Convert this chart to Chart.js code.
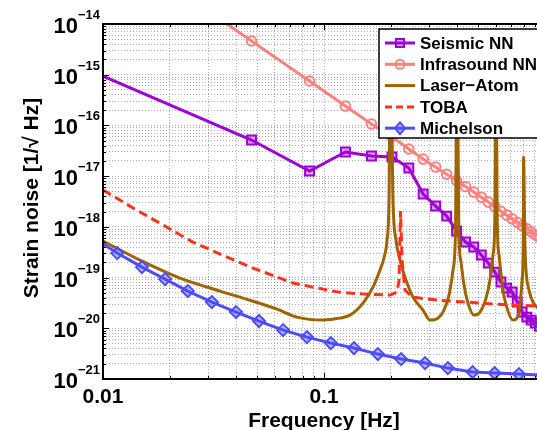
<!DOCTYPE html>
<html>
<head>
<meta charset="utf-8">
<script src="https://cdn.jsdelivr.net/npm/chart.js@4.4.1/dist/chart.umd.min.js"></script>
<style>
  html, body { margin: 0; padding: 0; background: #fff; overflow: hidden; }
  #wrap { position: relative; width: 560px; height: 430px; }
</style>
</head>
<body>
<div id="wrap"><canvas id="noiseChart"></canvas></div>
<script>
// frequency [Hz] / strain noise [1/sqrt(Hz)]
const seismicFreq = [0.01, 0.047, 0.086, 0.125, 0.164, 0.203, 0.242, 0.281, 0.320, 0.359, 0.398, 0.437, 0.476,
  0.515, 0.554, 0.593, 0.632, 0.671, 0.710, 0.749, 0.788, 0.827, 0.866, 0.905, 0.944];
const seismicNoise = [9.4e-16, 5.15e-17, 1.26e-17, 2.99e-17, 2.49e-17, 2.38e-17, 1.45e-17, 4.44e-18, 2.57e-18,
  1.63e-18, 8.26e-19, 5.01e-19, 4.0e-19, 2.78e-19, 1.93e-19, 1.28e-19, 8.15e-20, 6.2e-20, 5.18e-20, 3.29e-20,
  2.09e-20, 1.66e-20, 1.45e-20, 1.27e-20, 1.1e-20];

const infraFreq = [0.03, 0.047, 0.086, 0.125, 0.164, 0.203, 0.242, 0.281, 0.320, 0.359, 0.398, 0.437, 0.476,
  0.515, 0.554, 0.593, 0.632, 0.671, 0.710, 0.749, 0.788, 0.827, 0.866, 0.905, 0.944];
const infraNoise = [1.8e-14, 4.62e-15, 7.52e-16, 2.41e-16, 1.07e-16, 5.98e-17, 3.43e-17, 2.17e-17, 1.51e-17,
  1.09e-17, 8.18e-18, 6.24e-18, 4.85e-18, 3.84e-18, 3.08e-18, 2.49e-18, 2.03e-18, 1.70e-18, 1.44e-18, 1.23e-18,
  1.05e-18, 9.14e-19, 7.96e-19, 6.98e-19, 6.15e-19];

const laserFreq = [0.01, 0.0147, 0.02231, 0.03383, 0.04301, 0.06128, 0.07546, 0.0990, 0.1182, 0.1311, 0.1502,
  0.1666, 0.1792, 0.1868, 0.1928, 0.1968, 0.2, 0.2052, 0.2118, 0.2208, 0.2325, 0.2527, 0.2805, 0.3018, 0.3280,
  0.3491, 0.3679, 0.3835, 0.3936, 0.4, 0.4074, 0.4168, 0.4300, 0.4483, 0.4773, 0.5081, 0.5408, 0.5638, 0.5817,
  0.5928, 0.6, 0.6077, 0.6193, 0.6457, 0.6731, 0.7165, 0.7470, 0.7706, 0.7868, 0.7976, 0.8, 0.8102, 0.8204,
  0.8465, 0.8824, 0.949];
const laserNoise = [5.25e-19, 2.21e-19, 9.77e-20, 5.42e-20, 3.94e-20, 2.39e-20, 1.66e-20, 1.45e-20, 1.59e-20,
  1.82e-20, 3.14e-20, 6.5e-20, 1.41e-19, 2.43e-19, 5.5e-19, 3.38e-18, 5e-15, 3.38e-18, 5.5e-19, 2.21e-19,
  1.02e-19, 4.12e-20, 2.29e-20, 1.45e-20, 1.59e-20, 2.29e-20, 4.52e-20, 1.41e-19, 8.65e-19, 5e-15, 8.65e-19,
  2.02e-19, 7.11e-20, 3.14e-20, 1.82e-20, 2.09e-20, 3.94e-20, 8.93e-20, 2.78e-19, 1.36e-18, 5e-15, 1.36e-18,
  2.78e-19, 5.66e-20, 2.5e-20, 1.45e-20, 1.59e-20, 2.87e-20, 8.15e-20, 5.5e-19, 2.38e-17, 5.5e-19, 1.41e-19,
  5.66e-20, 3.29e-20, 2.29e-20];

const tobaFreq = [0.01, 0.01396, 0.01774, 0.0255, 0.0331, 0.0477, 0.0724, 0.1157, 0.150, 0.199, 0.214, 0.2185,
  0.222, 0.2255, 0.2325, 0.250, 0.324, 0.508, 0.695, 0.949];
const tobaNoise = [5.32e-18, 2.24e-18, 1.24e-18, 5.01e-19, 3.04e-19, 1.54e-19, 7.8e-20, 5.18e-20, 4.73e-20,
  4.52e-20, 5.2e-20, 8.9e-20, 2.05e-18, 2.2e-19, 5.66e-20, 4.12e-20, 3.6e-20, 3.14e-20, 2.87e-20, 2.74e-20];

const michFreq = [0.01, 0.0116, 0.0150, 0.0191, 0.0242, 0.0311, 0.0400, 0.0508, 0.0653, 0.0837, 0.1074, 0.1367,
  0.1753, 0.2233, 0.2865, 0.3633, 0.4703, 0.5915, 0.7620, 0.97];
const michNoise = [4.58e-19, 3.04e-19, 1.61e-19, 9.33e-20, 5.42e-20, 3.29e-20, 2.09e-20, 1.39e-20, 9.2e-21,
  6.7e-21, 5.1e-21, 4.07e-21, 3.1e-21, 2.47e-21, 2.06e-21, 1.64e-21, 1.37e-21, 1.31e-21, 1.25e-21, 1.19e-21];

// axis ticks
const xTickLabels = ['0.01', '0.1', '1'];
const yTickExponents = [-21, -20, -19, -18, -17, -16, -15, -14];

const FONT = '"Liberation Sans", Arial, Helvetica, sans-serif';
const C_SEIS = 'rgb(158,0,214)';
const C_INFRA = 'rgb(255,128,128)';
const C_LASER = 'rgb(158,100,0)';
const C_TOBA = 'rgb(255,50,30)';
const C_MICH = 'rgb(77,77,255)';

const pts = (xs, ys) => xs.map((x, i) => ({ x: x, y: ys[i] }));
// no marker on the first point (it is just where the curve enters the axes)
const noFirst = r => ctx => ctx.dataIndex === 0 ? 0 : r;

function logTicks(minExp, maxExp) {
  const ticks = [];
  for (let e = minExp; e < maxExp; e++) {
    for (let m = 1; m <= 9; m++) ticks.push({ value: Number(m + 'e' + e), major: m === 1 });
  }
  ticks.push({ value: Number('1e' + maxExp), major: true });
  return ticks;
}

const legendItems = [
  { label: 'Seismic NN', color: C_SEIS, marker: 'square' },
  { label: 'Infrasound NN', color: C_INFRA, marker: 'circle' },
  { label: 'Laser\u2212Atom', color: C_LASER },
  { label: 'TOBA', color: C_TOBA, dash: [7, 4] },
  { label: 'Michelson', color: C_MICH, marker: 'diamond' }
];

function drawMarker(ctx, kind, x, y, color) {
  ctx.save();
  ctx.strokeStyle = color;
  ctx.lineWidth = 2;
  ctx.setLineDash([]);
  ctx.beginPath();
  if (kind === 'square') {
    ctx.fillStyle = 'rgba(158,0,214,0.35)';
    ctx.rect(x - 4, y - 4, 8, 8);
  } else if (kind === 'circle') {
    ctx.fillStyle = 'rgba(255,255,255,0)';
    ctx.arc(x, y, 4.5, 0, Math.PI * 2);
  } else if (kind === 'diamond') {
    ctx.fillStyle = 'rgba(77,77,255,0.4)';
    ctx.moveTo(x - 5, y); ctx.lineTo(x, y - 6); ctx.lineTo(x + 5, y); ctx.lineTo(x, y + 6); ctx.closePath();
  }
  ctx.fill();
  ctx.stroke();
  ctx.restore();
}

// axes box, inward ticks, tick labels, titles and the legend
const frame = {
  id: 'frame',
  afterDraw(chart) {
    const { ctx, chartArea: a } = chart;
    const xs = chart.scales.x, ys = chart.scales.y;
    ctx.save();

    ctx.strokeStyle = '#000';
    ctx.lineWidth = 1;
    ctx.beginPath();
    xs.ticks.forEach(t => {
      const px = Math.round(xs.getPixelForValue(t.value)) + 0.5;
      const len = t.major ? 6 : 3;
      ctx.moveTo(px, a.bottom); ctx.lineTo(px, a.bottom - len);
      ctx.moveTo(px, a.top); ctx.lineTo(px, a.top + len);
    });
    ys.ticks.forEach(t => {
      const py = Math.round(ys.getPixelForValue(t.value)) + 0.5;
      const len = t.major ? 6 : 3;
      ctx.moveTo(a.left, py); ctx.lineTo(a.left + len, py);
      ctx.moveTo(a.right, py); ctx.lineTo(a.right - len, py);
    });
    ctx.stroke();

    ctx.lineWidth = 2;
    ctx.strokeRect(a.left, a.top, a.right - a.left, a.bottom - a.top);

    // x tick labels
    ctx.fillStyle = '#000';
    ctx.font = 'bold 21px ' + FONT;
    ctx.textAlign = 'center';
    ctx.textBaseline = 'alphabetic';
    xTickLabels.forEach(s => {
      ctx.fillText(s, xs.getPixelForValue(parseFloat(s)), a.bottom + 24);
    });

    // y tick labels: 10 with a superscript exponent
    yTickExponents.forEach(e => {
      const py = ys.getPixelForValue(Number('1e' + e));
      const sup = '\u2212' + Math.abs(e);
      ctx.font = 'bold 13px ' + FONT;
      const wSup = ctx.measureText(sup).width;
      ctx.textAlign = 'right';
      ctx.fillText(sup, a.left - 3, py - 5);
      ctx.font = 'bold 22px ' + FONT;
      ctx.fillText('10', a.left - 3 - wSup, py + 9);
    });

    // axis titles
    ctx.font = 'bold 21px ' + FONT;
    ctx.textAlign = 'center';
    ctx.fillText('Frequency [Hz]', (a.left + a.right) / 2, 427);
    ctx.save();
    ctx.translate(32, 198);
    ctx.rotate(-Math.PI / 2);
    ctx.textBaseline = 'middle';
    ctx.fillText('Strain noise [1/\u221A Hz]', 0, 0);
    ctx.restore();

    // legend box, top right inside the axes
    const lx = 379, ly = 29;
    ctx.fillStyle = '#fff';
    ctx.fillRect(lx, ly, 175, 109);
    ctx.lineWidth = 1.5;
    ctx.strokeStyle = '#000';
    ctx.strokeRect(lx, ly, 175, 109);
    ctx.font = 'bold 17px ' + FONT;
    ctx.textAlign = 'left';
    ctx.textBaseline = 'middle';
    legendItems.forEach((it, i) => {
      const y = ly + 14 + i * 21.3;
      ctx.save();
      ctx.strokeStyle = it.color;
      ctx.lineWidth = 3;
      ctx.setLineDash(it.dash || []);
      ctx.beginPath();
      ctx.moveTo(lx + 6, y); ctx.lineTo(lx + 36, y);
      ctx.stroke();
      ctx.restore();
      if (it.marker) drawMarker(ctx, it.marker, lx + 21, y, it.color);
      ctx.fillStyle = '#000';
      ctx.fillText(it.label, lx + 41, y + 1);
    });

    ctx.restore();
  }
};

const gridOpts = { color: 'rgba(0,0,0,0.32)', lineWidth: 1, drawTicks: false };

new Chart(document.getElementById('noiseChart'), {
  type: 'line',
  data: {
    datasets: [
      {
        label: 'Seismic NN', data: pts(seismicFreq, seismicNoise), order: 5,
        borderColor: C_SEIS, borderWidth: 3, pointStyle: 'rect', pointRadius: noFirst(6.3),
        pointBorderWidth: 2, pointBorderColor: C_SEIS, pointBackgroundColor: 'rgba(158,0,214,0.35)'
      },
      {
        label: 'Infrasound NN', data: pts(infraFreq, infraNoise), order: 4,
        borderColor: C_INFRA, borderWidth: 3, pointStyle: 'circle', pointRadius: noFirst(4.8),
        pointBorderWidth: 2, pointBorderColor: C_INFRA, pointBackgroundColor: 'rgba(255,255,255,0)'
      },
      {
        label: 'Laser\u2212Atom', data: pts(laserFreq, laserNoise), order: 3,
        borderColor: C_LASER, borderWidth: 3, pointRadius: 0, cubicInterpolationMode: 'monotone',
        borderJoinStyle: 'round'
      },
      {
        label: 'TOBA', data: pts(tobaFreq, tobaNoise), order: 2,
        borderColor: C_TOBA, borderWidth: 3, borderDash: [9, 5], pointRadius: 0
      },
      {
        label: 'Michelson', data: pts(michFreq, michNoise), order: 1,
        borderColor: C_MICH, borderWidth: 3, pointStyle: 'rectRot', pointRadius: noFirst(6),
        pointBorderWidth: 2, pointBorderColor: C_MICH, pointBackgroundColor: 'rgba(77,77,255,0.4)'
      }
    ]
  },
  options: {
    responsive: true,
    maintainAspectRatio: false,
    animation: false,
    clip: 0,
    layout: { padding: { left: 103, top: 24, right: 15, bottom: 51 } },
    plugins: { legend: { display: false }, tooltip: { enabled: false } },
    elements: { line: { tension: 0 } },
    scales: {
      x: {
        type: 'logarithmic', min: 0.01, max: 1,
        afterBuildTicks: s => { s.ticks = logTicks(-2, 0); },
        ticks: { display: false },
        grid: gridOpts,
        border: { display: false, dash: [1, 2] }
      },
      y: {
        type: 'logarithmic', min: 1e-21, max: 1e-14,
        afterBuildTicks: s => { s.ticks = logTicks(-21, -14); },
        ticks: { display: false },
        grid: gridOpts,
        border: { display: false, dash: [1, 2] }
      }
    }
  },
  plugins: [frame]
});
</script>
</body>
</html>
